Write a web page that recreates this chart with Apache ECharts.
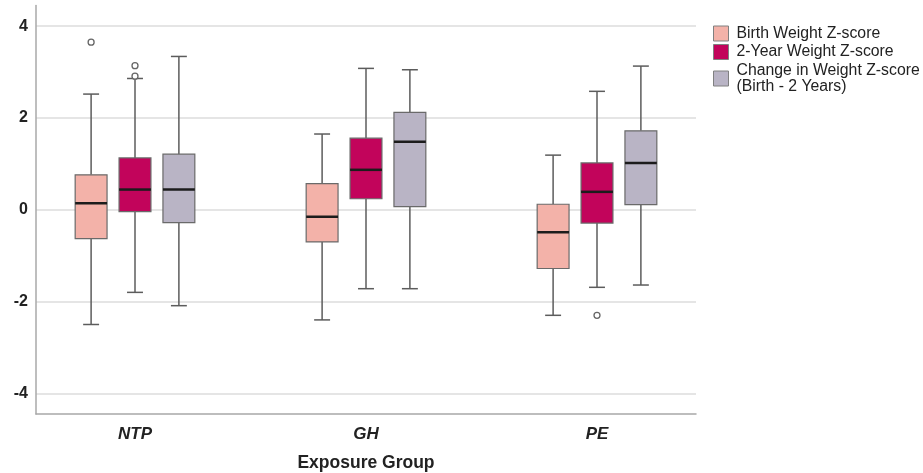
<!DOCTYPE html>
<html><head><meta charset="utf-8">
<script src="https://cdn.jsdelivr.net/npm/echarts@6/dist/echarts.min.js"></script>
<style>html,body{margin:0;padding:0;background:#fff}#c{width:923px;height:473px}</style>
</head><body><div id="c"></div>
<script>
// ---- data ----
const categories = ['NTP', 'GH', 'PE'];
const seriesNames = ['Birth Weight Z-score', '2-Year Weight Z-score', 'Change in Weight Z-score\n(Birth - 2 Years)'];
// per group: [lower whisker, Q1, median, Q3, upper whisker]
const birthWeight   = [[-2.50, -0.63,  0.14, 0.76, 2.52], [-2.40, -0.70, -0.15, 0.57, 1.65], [-2.30, -1.28, -0.49, 0.12, 1.19]];
const twoYearWeight = [[-1.80, -0.04,  0.44, 1.13, 2.86], [-1.72,  0.24,  0.87, 1.56, 3.08], [-1.69, -0.29,  0.39, 1.02, 2.58]];
const changeWeight  = [[-2.09, -0.28,  0.44, 1.21, 3.34], [-1.72,  0.07,  1.48, 2.12, 3.05], [-1.64,  0.11,  1.02, 1.72, 3.13]];
// outliers: [group index, value]
const birthOutliers   = [[0, 3.65]];
const twoYearOutliers = [[0, 3.14], [0, 2.91], [2, -2.30]];
const changeOutliers  = [];
const yTickLabels = [-4, -2, 0, 2, 4];

// ---- styles ----
const FONT = 'Liberation Sans, Arial, Helvetica, sans-serif';
const fills = ['#F3B2A9', '#C2045B', '#B9B4C5'];
const BOX_BORDER = '#6a6a6a';
const WHISKER = '#5c5c5c';
const OFFSETS = [-0.19, 0, 0.19];   // in category units
const BOX_W = 0.138;                // in category units

function boxRender(offset) {
  return function (params, api) {
    const x = api.value(0) + offset;
    const lo = api.coord([x, api.value(1)]);
    const q1 = api.coord([x, api.value(2)]);
    const md = api.coord([x, api.value(3)]);
    const q3 = api.coord([x, api.value(4)]);
    const hi = api.coord([x, api.value(5)]);
    const bw = api.size([BOX_W, 0])[0];
    const cx = lo[0];
    const cap = bw / 4;
    const ws = { stroke: WHISKER, lineWidth: 1.5 };
    return {
      type: 'group',
      children: [
        { type: 'line', shape: { x1: cx, y1: hi[1], x2: cx, y2: q3[1] }, style: ws },
        { type: 'line', shape: { x1: cx, y1: q1[1], x2: cx, y2: lo[1] }, style: ws },
        { type: 'line', shape: { x1: cx - cap, y1: hi[1], x2: cx + cap, y2: hi[1] }, style: ws },
        { type: 'line', shape: { x1: cx - cap, y1: lo[1], x2: cx + cap, y2: lo[1] }, style: ws },
        { type: 'rect', shape: { x: cx - bw / 2, y: q3[1], width: bw, height: q1[1] - q3[1] },
          style: { fill: api.visual('color'), stroke: BOX_BORDER, lineWidth: 1.2 } },
        { type: 'line', shape: { x1: cx - bw / 2, y1: md[1], x2: cx + bw / 2, y2: md[1] },
          style: { stroke: '#1c1c1c', lineWidth: 2.5 } }
      ]
    };
  };
}
function outlierRender(offset) {
  return function (params, api) {
    const p = api.coord([api.value(0) + offset, api.value(1)]);
    return { type: 'circle', shape: { cx: p[0], cy: p[1], r: 3 },
      style: { fill: '#fff', stroke: '#666', lineWidth: 1.3 } };
  };
}

const boxData = [birthWeight, twoYearWeight, changeWeight];
const outData = [birthOutliers, twoYearOutliers, changeOutliers];
const series = [];
boxData.forEach((rows, i) => {
  series.push({
    type: 'custom', name: seriesNames[i],
    itemStyle: { color: fills[i], borderColor: '#808080', borderWidth: 1 },
    renderItem: boxRender(OFFSETS[i]),
    encode: { x: 0, y: [1, 2, 3, 4, 5] },
    data: rows.map((r, g) => [g].concat(r)),
    z: 3
  });
});
outData.forEach((rows, i) => {
  series.push({
    type: 'custom', name: 'outliers' + i,
    renderItem: outlierRender(OFFSETS[i]),
    encode: { x: 0, y: 1 },
    data: rows,
    z: 4
  });
});

const chart = echarts.init(document.getElementById('c'));
chart.setOption({
  animation: false,
  backgroundColor: '#fff',
  textStyle: { fontFamily: FONT },
  grid: { left: 36, right: 227, top: 5.5, bottom: 59, containLabel: false, outerBoundsMode: 'none' },
  legend: {
    data: seriesNames, orient: 'vertical', left: 713, top: 25.5, padding: 0,
    icon: 'rect', itemWidth: 15, itemHeight: 15, itemGap: 2.5,
    itemStyle: { borderColor: '#808080', borderWidth: 1 },
    textStyle: { fontFamily: FONT, fontSize: 15.8, color: '#222', lineHeight: 16, padding: [0, 0, 0, 3] },
    selectedMode: false
  },
  xAxis: {
    type: 'value', min: -3 / 7, max: 17 / 7, splitNumber: 3,
    name: 'Exposure Group', nameLocation: 'middle', nameGap: 40,
    nameTextStyle: { fontFamily: FONT, fontSize: 17.5, fontWeight: 'bold', color: '#222' },
    axisLine: { show: true, onZero: false, lineStyle: { color: '#a8a8a8', width: 1.5 } },
    axisTick: { show: false },
    splitLine: { show: false },
    axisLabel: {
      margin: 12, fontFamily: FONT, fontSize: 17, fontWeight: 'bold', fontStyle: 'italic', color: '#222',
      showMinLabel: false, showMaxLabel: false,
      formatter: v => (Number.isInteger(v) && categories[v] !== undefined) ? categories[v] : ''
    }
  },
  yAxis: {
    type: 'value', min: -4.45, max: 4.45, splitNumber: 4,
    axisLine: { show: true, onZero: false, lineStyle: { color: '#a8a8a8', width: 1.5 } },
    axisTick: { show: false },
    splitLine: { show: true, showMinLine: false, showMaxLine: false, lineStyle: { color: '#dcdcdc', width: 1.5 } },
    axisLabel: {
      margin: 8, fontFamily: FONT, fontSize: 16, fontWeight: 'bold', color: '#222',
      showMinLabel: false, showMaxLabel: false,
      formatter: v => yTickLabels.indexOf(Math.round(v * 100) / 100) >= 0 ? String(v) : ''
    }
  },
  series: series
});
</script></body></html>
